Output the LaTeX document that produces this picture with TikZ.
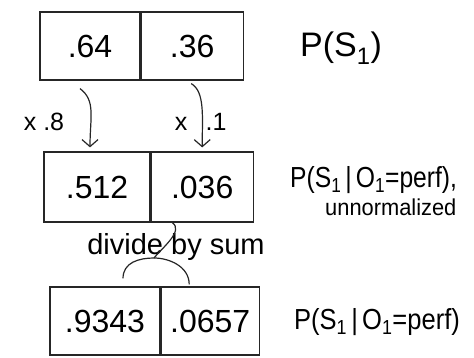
\documentclass[tikz,border=0pt]{standalone}
\usepackage{fontspec}
\setmainfont{Liberation Sans}
\usetikzlibrary{arrows.meta,positioning,calc}

\begin{document}
\begin{tikzpicture}[
  x=1pt, y=-1pt,
  cell/.style={draw=black!85, line width=1.2pt, minimum height=68pt, inner sep=0pt, font=\fontsize{32}{38}\selectfont},
  lbl/.style={anchor=west, inner sep=0pt, font=\fontsize{29}{34}\selectfont},
  note/.style={font=\fontsize{25}{30}\selectfont},
  link/.style={draw=black!85, line width=1.2pt},
  mult/.style={link, -{Straight Barb[length=7pt,width=16pt]}}
]
\useasboundingbox (0,0) rectangle (474,358);

% prior
\node [cell, minimum width=100pt] (p64) at (90,46) {.64};
\node [cell, minimum width=102pt, right=0pt of p64] (p36) {.36};
\node [lbl, font=\fontsize{34}{40}\selectfont] (prior) at (300,48) {P(S\textsubscript{1})};

% times observation likelihood
\node [cell, minimum width=106pt, minimum height=70pt] (u512) at (97,187) {.512};
\node [cell, minimum width=102pt, minimum height=70pt, right=0pt of u512] (u036) {.036};
\node [lbl] (joint) at (290,180) {\scalebox{0.85}[1]{P(S\textsubscript{1}\,|\,O\textsubscript{1}=perf),}};
\node [note, anchor=west, inner sep=0pt, font=\fontsize{23}{28}\selectfont] (unnorm) at (325,207) {\scalebox{0.95}[1]{unnormalized}};

\draw [mult] ([xshift=-10pt,yshift=-8pt]p64.south) .. controls +(16,12) and +(0,-30) .. ([xshift=-7pt,yshift=4pt]u512.north);
\node [note] (k8) at (44,122) {x .8};
\draw [mult] ([xshift=-1pt,yshift=-3pt]p36.south) .. controls +(14,8) and +(0,-30) .. ([yshift=4pt]u036.north);
\node [note] (kx) at (181,124) {x};
\node [note] (k1) at (216,122) {.1};

% normalized
\node [cell, minimum width=110pt] (n9343) at (105,321) {.9343};
\node [cell, minimum width=98pt, right=0pt of n9343] (n0657) {.0657};
\node [lbl] (post) at (294,322) {\scalebox{0.88}[1]{P(S\textsubscript{1}\,|\,O\textsubscript{1}=perf)}};

\node [note, font=\fontsize{29}{34}\selectfont] (divsum) at (176,247) {divide by sum};
\coordinate (split) at (154,258);
\draw [link] ([xshift=-30pt]u036.south) .. controls +(12,8) and +(8,-10) .. (split);
\draw [link] ([xshift=18pt,yshift=8pt]n9343.north) .. controls +(0,-16) and +(-15,0) .. (split)
  .. controls +(15,0) and +(0,-18) .. ([xshift=-21pt,yshift=2pt]n0657.north);
\end{tikzpicture}
\end{document}
